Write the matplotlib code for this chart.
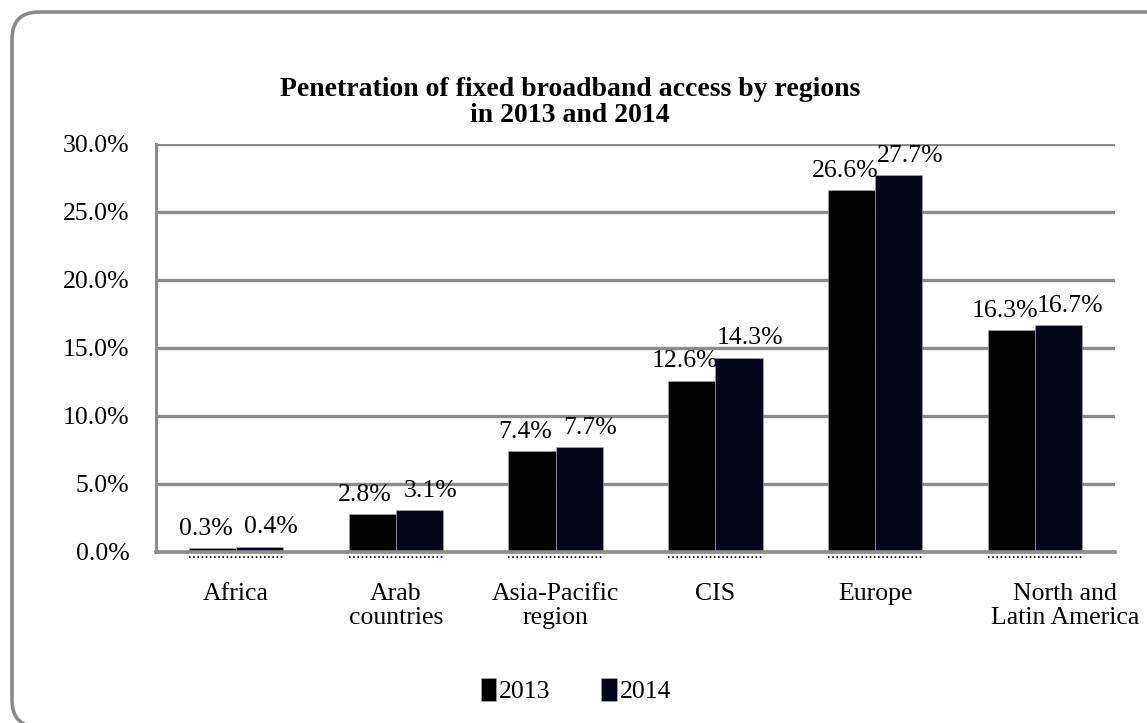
import numpy as np
import matplotlib.pyplot as plt
from matplotlib.patches import FancyBboxPatch
from matplotlib.ticker import FuncFormatter
import matplotlib.transforms as mtransforms

regions = ["Africa", "Arab\ncountries", "Asia-Pacific\nregion", "CIS", "Europe", "North and\nLatin America"]
years = ["2013", "2014"]
pen_2013 = [0.3, 2.8, 7.4, 12.6, 26.6, 16.3]
pen_2014 = [0.4, 3.1, 7.7, 14.3, 27.7, 16.7]

plt.rcParams['font.family'] = ['Liberation Serif', 'DejaVu Serif']

fig = plt.figure(figsize=(11.47, 7.23), dpi=100)

# rounded outer frame in pixel units (runs off the bottom/right edge)
frame = FancyBboxPatch((12, -4), 1162, 715,
                       boxstyle="round,pad=0,rounding_size=27",
                       transform=mtransforms.IdentityTransform(), facecolor="none",
                       edgecolor="#8a8a8a", linewidth=2.6, zorder=-1)
fig.patches.append(frame)

ax = fig.add_axes([156 / 1147, 171 / 723, 959 / 1147, 408 / 723])
ax.set_facecolor("none")

x = np.arange(len(regions))
w = 0.295
colors = ["#020203", "#05051a"]

b1 = ax.bar(x - w / 2, pen_2013, w, color=colors[0], edgecolor="#b0b0b0", linewidth=0.4, label=years[0], zorder=3)
b2 = ax.bar(x + w / 2, pen_2014, w, color=colors[1], edgecolor="#b0b0b0", linewidth=0.4, label=years[1], zorder=3)

# dotted residue under each bar pair
off = mtransforms.offset_copy(ax.transData, fig=fig, x=0, y=-5, units="dots")
for xi in x:
    ax.plot([xi - w, xi + w], [0, 0], color="black", linestyle=(0, (1, 1.5)),
            linewidth=1.2, transform=off, clip_on=False, zorder=2)

ax.set_xlim(-0.5, len(regions) - 0.5)
ax.set_ylim(0, 30)
ax.set_yticks(np.arange(0, 31, 5))
ax.yaxis.set_major_formatter(FuncFormatter(lambda v, p: f"{v:.1f}%"))
ax.set_xticks(x)
ax.set_xticklabels(regions, fontsize=18.5, linespacing=1.15)
ax.tick_params(axis="y", labelsize=18.5, length=0, pad=19)
ax.tick_params(axis="x", length=0, pad=22)

# the last category label sits a bit to the right
last = ax.get_xticklabels()[-1]
last.set_transform(last.get_transform() + mtransforms.ScaledTranslation(30 / 100, 0, fig.dpi_scale_trans))

ax.grid(axis="y", color="#8c8c8c", linewidth=2.4, zorder=0)
for yv in ax.get_yticks()[1:]:
    ax.axhline(yv, color="#c4c4c4", linewidth=0.6, linestyle=(0, (3, 4)), zorder=1)
for s in ["top", "right"]:
    ax.spines[s].set_visible(False)
ax.spines["left"].set_color("#8c8c8c")
ax.spines["left"].set_linewidth(2.2)
ax.spines["bottom"].set_color("#8c8c8c")
ax.spines["bottom"].set_linewidth(2.6)
ax.spines["bottom"].set_zorder(4)

for bars, vals, dx in [(b1, pen_2013, -5), (b2, pen_2014, 8)]:
    for rect, v in zip(bars, vals):
        ax.annotate(f"{v:.1f}%", (rect.get_x() + rect.get_width() / 2, v),
                    xytext=(dx, 6), textcoords="offset points",
                    ha="center", va="bottom", fontsize=18.5)

fig.text(0.497, 0.858, "Penetration of fixed broadband access by regions\nin 2013 and 2014",
         ha="center", va="center", fontsize=20, fontweight="bold", linespacing=1.05)

fig.legend(handles=[b1, b2], labels=years, loc="center", bbox_to_anchor=(0.502, 0.045),
           ncol=2, frameon=False, fontsize=18.5, handlelength=0.6, handleheight=1.0,
           handletextpad=0.1, columnspacing=2.0)

fig.savefig("out.png", dpi=100)
